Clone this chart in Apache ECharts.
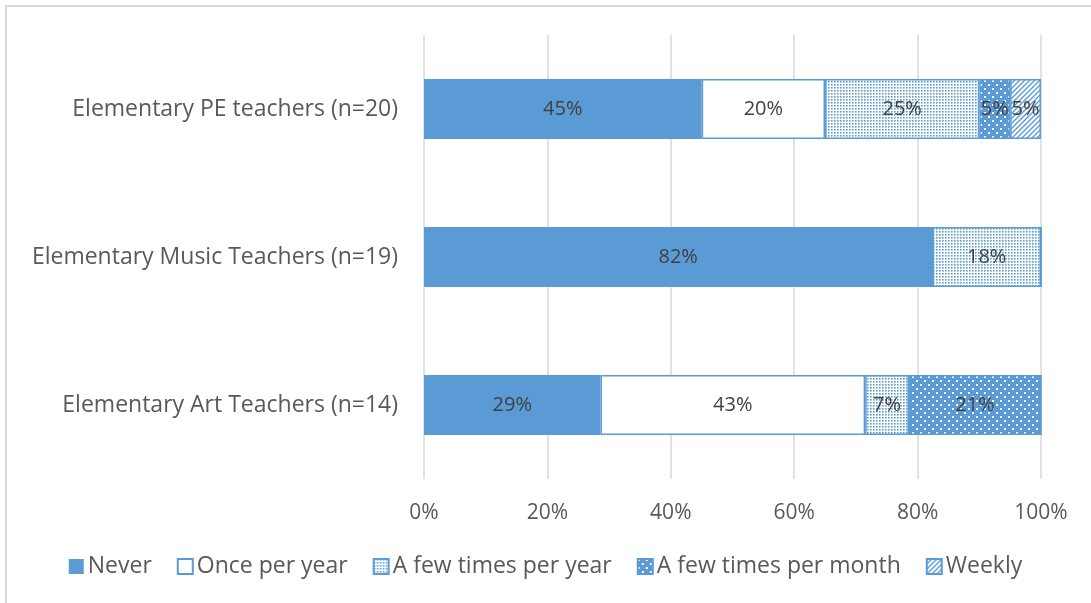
<!DOCTYPE html>
<html>
<head>
    <meta charset="utf-8">
    <title>Teachers chart</title>
    <script src="https://cdn.jsdelivr.net/npm/echarts@6/dist/echarts.min.js"></script>
    <style>
        html, body { margin: 0; padding: 0; background: #fff; }
        #frame { position: absolute; left: 5px; top: 5px; width: 1100px; height: 610px;
                 border-left: 2px solid #d9d9d9; border-top: 2px solid #d9d9d9; }
        #main { position: absolute; left: 0; top: 0; width: 1091px; height: 603px; }
    </style>
</head>
<body>
<div id="frame"></div>
<div id="main"></div>

<script type="text/javascript">
    // categories, bottom to top
    var groups = ['Elementary Art Teachers (n=14)', 'Elementary Music Teachers (n=19)', 'Elementary PE teachers (n=20)'];
    var seriesNames = ['Never', 'Once per year', 'A few times per year', 'A few times per month', 'Weekly'];
    var never = [28.6, 82.4, 45];
    var oncePerYear = [42.9, 0, 20];
    var fewPerYear = [7.1, 17.6, 25];
    var fewPerMonth = [21.4, 0, 5];
    var weekly = [0, 0, 5];
    var tickLabels = ['0%', '20%', '40%', '60%', '80%', '100%'];

    var blue = '#5B9BD5';
    var font = 'Open Sans';

    // small canvas patterns (Excel-like fills)
    function makePattern(w, h, draw) {
        var c = document.createElement('canvas');
        c.width = w; c.height = h;
        var ctx = c.getContext('2d');
        draw(ctx);
        return { image: c, repeat: 'repeat' };
    }
    var dotsLight = makePattern(3, 3, function (ctx) {
        ctx.fillStyle = '#fff'; ctx.fillRect(0, 0, 3, 3);
        ctx.fillStyle = blue; ctx.fillRect(0, 0, 1.6, 1.6);
    });
    var dotsDark = makePattern(8, 8, function (ctx) {
        ctx.fillStyle = blue; ctx.fillRect(0, 0, 8, 8);
        ctx.fillStyle = '#fff'; ctx.fillRect(0, 0, 2, 2); ctx.fillRect(4, 4, 2, 2);
    });
    var diag = makePattern(5, 5, function (ctx) {
        ctx.fillStyle = '#fff'; ctx.fillRect(0, 0, 5, 5);
        ctx.strokeStyle = blue; ctx.lineWidth = 1.4;
        ctx.beginPath();
        ctx.moveTo(-1, 6); ctx.lineTo(6, -1);
        ctx.moveTo(-1, 1); ctx.lineTo(1, -1);
        ctx.moveTo(4, 6); ctx.lineTo(6, 4);
        ctx.stroke();
    });

    var fills = [blue, '#fff', dotsLight, dotsDark, diag];
    var datas = [never, oncePerYear, fewPerYear, fewPerMonth, weekly];

    var series = [];
    for (var i = 0; i < seriesNames.length; i++) {
        series.push({
            name: seriesNames[i],
            type: 'bar',
            stack: 'total',
            barWidth: 60,
            data: datas[i],
            itemStyle: { color: fills[i], borderColor: blue, borderWidth: i === 0 ? 0 : 1.5 },
            label: {
                show: true,
                position: 'inside',
                color: '#404040',
                fontFamily: font,
                fontSize: 20,
                formatter: function (p) { return p.value > 0 ? Math.round(p.value) + '%' : ''; }
            }
        });
    }

    var myChart = echarts.init(document.getElementById('main'));
    myChart.setOption({
        animation: false,
        grid: { left: 424, right: 50, top: 35, bottom: 124 },
        legend: {
            data: seriesNames,
            bottom: 20,
            left: 'center',
            icon: 'rect',
            itemWidth: 15,
            itemHeight: 15,
            itemGap: 25,
            textStyle: { color: '#595959', fontFamily: font, fontSize: 23, padding: [0, 0, 0, -1] }
        },
        xAxis: {
            type: 'value',
            min: 0,
            max: 100,
            interval: 20,
            axisLine: { show: false },
            axisTick: { show: false },
            splitLine: { lineStyle: { color: '#d9d9d9', width: 1.5 } },
            axisLabel: {
                color: '#595959', fontFamily: font, fontSize: 21, margin: 24,
                formatter: function (v) { return tickLabels[v / 20]; }
            }
        },
        yAxis: {
            type: 'category',
            data: groups,
            axisLine: { show: false },
            axisTick: { show: false },
            axisLabel: { color: '#595959', fontFamily: font, fontSize: 23, margin: 26 }
        },
        series: series
    });
</script>
</body>
</html>
